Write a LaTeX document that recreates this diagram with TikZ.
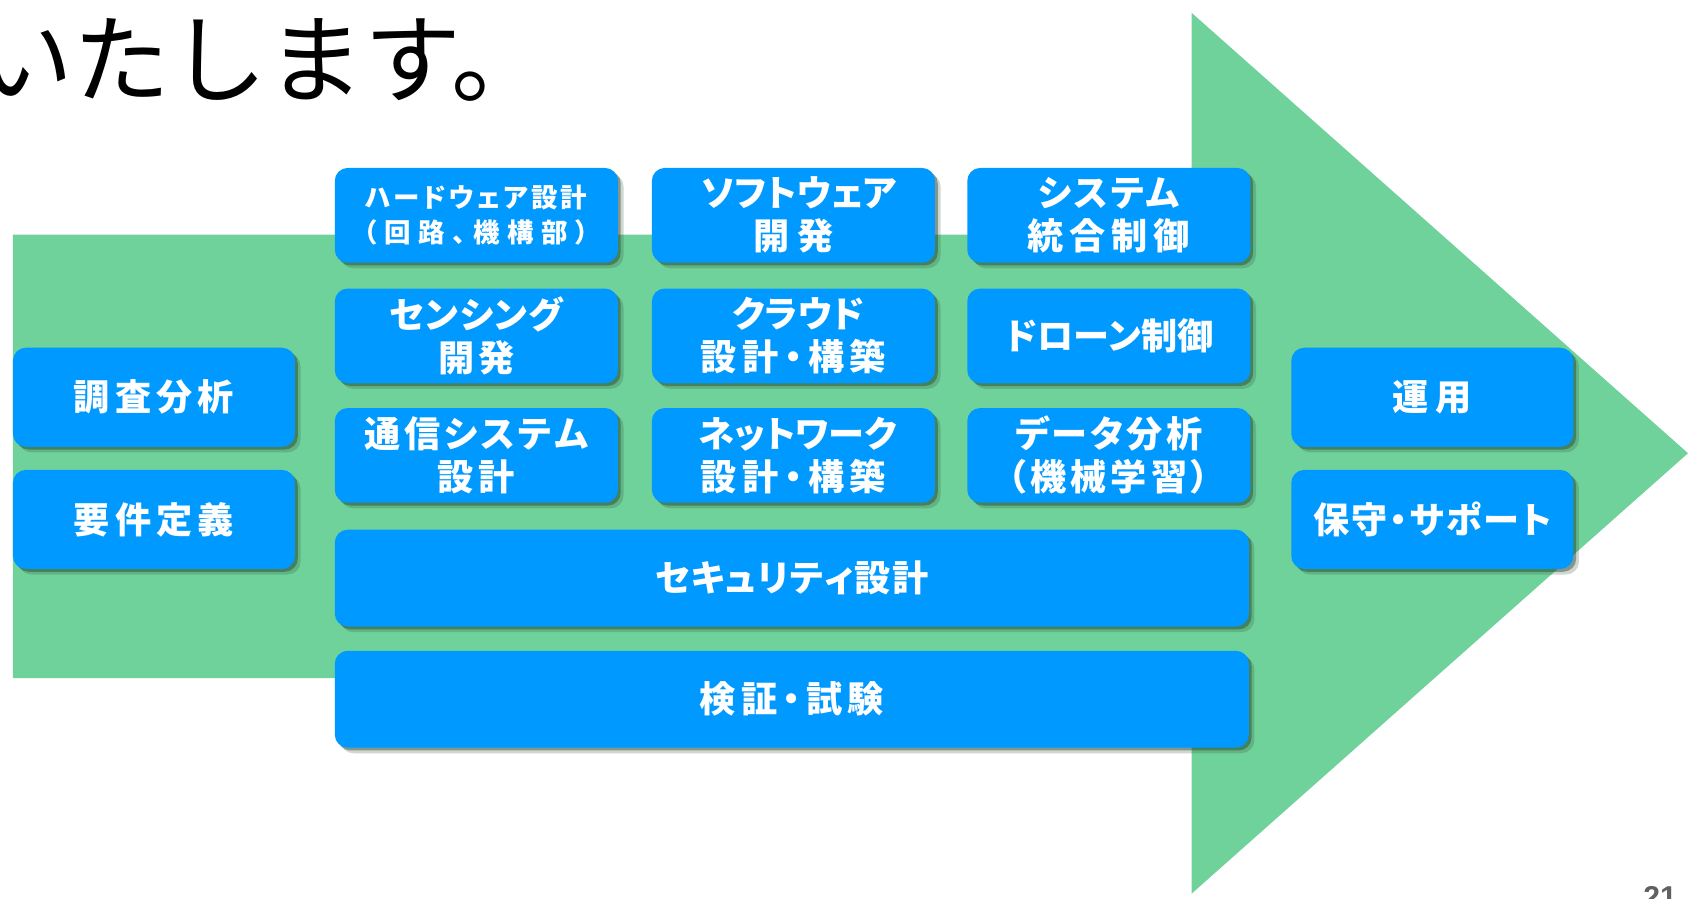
\documentclass[tikz,border=0pt]{standalone}
\usepackage{fontspec}
\newfontfamily\jpr{Noto Sans CJK JP}
\newfontfamily\jp[RawFeature=+palt]{Noto Sans CJK JP}
\newfontfamily\lib{Liberation Sans}
\usetikzlibrary{shadows}
\definecolor{arrowgreen}{RGB}{112,210,155}
\definecolor{boxblue}{RGB}{0,153,255}
\definecolor{shadowc}{RGB}{40,70,50}
\definecolor{pagegray}{RGB}{96,96,96}
\hbadness=10000
\newcommand\spr[2]{\leavevmode\hbox to #1{\sprfirst#2\relax}}
\def\sprfirst#1{#1\sprrest}
\def\sprrest#1{\ifx#1\relax\else\hfil#1\expandafter\sprrest\fi}
\tikzset{
  box/.style={rectangle, rounded corners=6pt, fill=boxblue, text=white,
    inner sep=0pt, align=center,
    drop shadow={shadow xshift=1.3pt, shadow yshift=-1.3pt, fill=shadowc, opacity=.45},
    drop shadow={shadow xshift=2.6pt, shadow yshift=-2.6pt, fill=shadowc, opacity=.22},
    font=\jp\bfseries\fontsize{16.8}{20}\selectfont},
  cell/.style={box, minimum width=131.5pt, minimum height=44pt},
  wide/.style={box, minimum width=424.5pt, minimum height=45pt},
  side/.style={box, minimum width=131pt, minimum height=46pt},
  small/.style={font=\jp\bfseries\fontsize{12.3}{16}\selectfont},
}
\begin{document}
\begin{tikzpicture}[x=0.5pt, y=-0.5pt]
\useasboundingbox (0,0) rectangle (1568,835);
\clip (0,0) rectangle (1568,835);
% big green arrow
\fill[arrowgreen] (12,218) -- (1107,218) -- (1107,12) -- (1568,421)
  -- (1107,830) -- (1107,630) -- (12,630) -- cycle;
% title (partly cut at the left edge)
\node[anchor=base west, inner sep=0pt, font=\jpr\fontsize{45}{45}\selectfont]
  (title) at (-22,89) {いたします。};
% left column
\node[side] (chosa) at (143,369) {\spr{74.5pt}{調査分析}};
\node[side] (yoken) at (143,482.5) {\spr{74.5pt}{要件定義}};
% grid
\node[cell, small] (hw) at (442.5,200) {\spr{103pt}{ハードウェア設計}\\\spr{104.5pt}{（回路、機構部）}};
\node[cell] (sw) at (737,200) {\spr{85pt}{ソフトウェア}\\\spr{37.5pt}{開発}};
\node[cell] (sys) at (1030,200) {\spr{66pt}{システム}\\\spr{75.5pt}{統合制御}};
\node[cell] (sens) at (442.5,312) {\spr{80.5pt}{センシング}\\\spr{35.5pt}{開発}};
\node[cell] (cloud) at (737,312) {\spr{56.5pt}{クラウド}\\\spr{86pt}{設計・構築}};
\node[cell] (drone) at (1030,312) {\spr{96.5pt}{ドローン制御}};
\node[cell] (comm) at (442.5,423) {\spr{104pt}{通信システム}\\\spr{36pt}{設計}};
\node[cell] (net) at (737,423) {\spr{88pt}{ネットワーク}\\\spr{86pt}{設計・構築}};
\node[cell] (data) at (1030,423) {\spr{87pt}{データ分析}\\\spr{93.5pt}{（機械学習）}};
% wide rows
\node[wide] (sec) at (735.5,537) {\spr{127pt}{セキュリティ設計}};
\node[wide] (test) at (735.5,649.5) {\spr{85.5pt}{検証・試験}};
% right column
\node[side] (unyo) at (1330.5,369) {\spr{37pt}{運用}};
\node[side] (hoshu) at (1330.5,482.5) {\spr{110.5pt}{保守・サポート}};
% page number
\node[anchor=base east, inner sep=0pt, text=pagegray, font=\lib\bfseries\fontsize{14}{14}\selectfont]
  (page) at (1558,843) {21};
\end{tikzpicture}
\end{document}
